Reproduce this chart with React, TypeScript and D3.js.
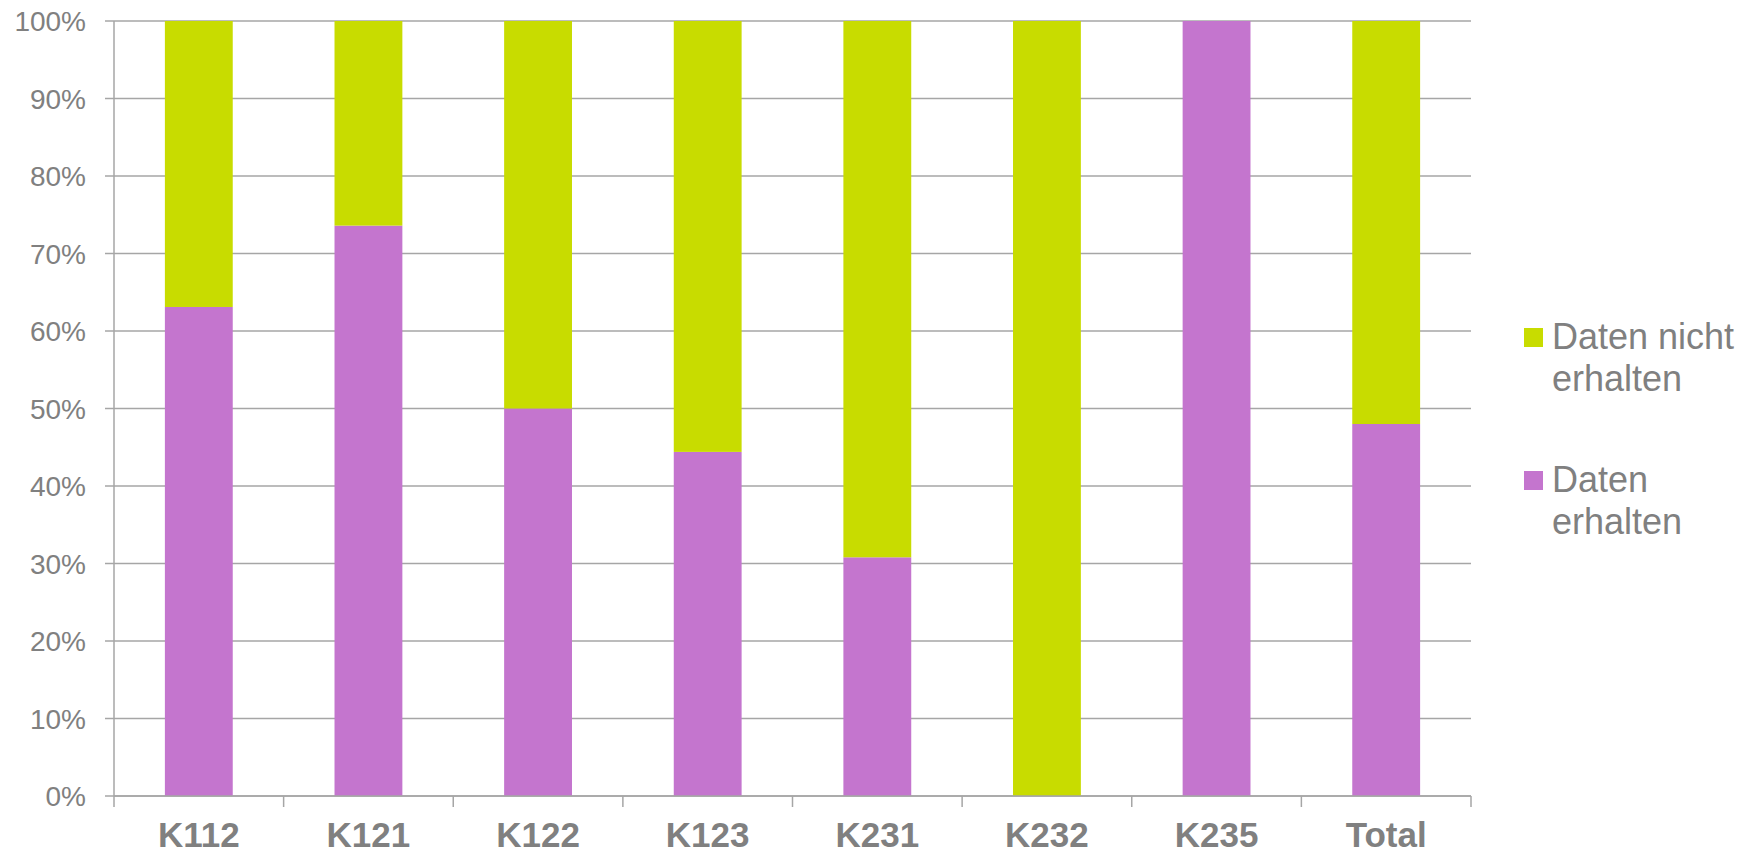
import React from "react";
import * as d3 from "d3";

const categories = ["K112", "K121", "K122", "K123", "K231", "K232", "K235", "Total"];
const erhalten = [63.1, 73.6, 50.0, 44.4, 30.8, 0, 100, 48.0];
const nichtErhalten = categories.map((_, i) => 100 - erhalten[i]);
const yTicks = [0, 10, 20, 30, 40, 50, 60, 70, 80, 90, 100];
const seriesColors = ["#C475CE", "#C8DC00"];

const W = 1757;
const H = 855;
const left = 114;
const right = 1471;
const top = 21;
const bottom = 796;
const grey = "#A6A6A6";
const textGrey = "#808080";
const font = "'Liberation Sans', Arial, sans-serif";

export default function App() {
  const x = d3.scaleBand<string>().domain(categories).range([left, right]).paddingInner(0.6).paddingOuter(0.3);
  const band = d3.scaleBand<string>().domain(categories).range([left, right]);
  const y = d3.scaleLinear().domain([0, 100]).range([bottom, top]);

  const rows = categories.map((c, i) => ({ cat: c, erhalten: erhalten[i], nicht: nichtErhalten[i] }));
  const stack = d3.stack<any>().keys(["erhalten", "nicht"])(rows);

  return (
    <div style={{ position: "absolute", left: 0, top: 0 }}>
      <svg width={W} height={H} style={{ display: "block", background: "#fff" }}>
        {yTicks.map((t) => (
          <g key={t}>
            <line x1={left - 9} x2={right} y1={y(t)} y2={y(t)} stroke={grey} strokeWidth={1.5} />
            <text x={86} y={y(t)} dy="0.36em" textAnchor="end" fontFamily={font} fontSize={28} fill={textGrey}>
              {t}%
            </text>
          </g>
        ))}
        {stack.map((s, si) =>
          s.map((d, i) => (
            <rect
              key={`${si}-${i}`}
              x={x(categories[i])}
              width={x.bandwidth()}
              y={y(d[1])}
              height={Math.max(0, y(d[0]) - y(d[1]))}
              fill={seriesColors[si]}
            />
          ))
        )}
        <line x1={left} x2={left} y1={top} y2={bottom} stroke={grey} strokeWidth={1.5} />
        <line x1={left} x2={right} y1={bottom} y2={bottom} stroke={grey} strokeWidth={1.5} />
        {categories.map((c) => (
          <line key={c} x1={band(c)} x2={band(c)} y1={bottom} y2={bottom + 11} stroke={grey} strokeWidth={1.5} />
        ))}
        <line x1={right} x2={right} y1={bottom} y2={bottom + 11} stroke={grey} strokeWidth={1.5} />
        {categories.map((c) => (
          <text
            key={c}
            x={(band(c) as number) + band.bandwidth() / 2}
            y={847}
            textAnchor="middle"
            fontFamily={font}
            fontWeight="bold"
            fontSize={35}
            fill={textGrey}
          >
            {c}
          </text>
        ))}
        <g fontFamily={font} fontSize={36} fill={textGrey}>
          <rect x={1524} y={328} width={19} height={19} fill={seriesColors[1]} />
          <text x={1552} y={349}>Daten nicht</text>
          <text x={1552} y={391}>erhalten</text>
          <rect x={1524} y={471} width={19} height={19} fill={seriesColors[0]} />
          <text x={1552} y={492}>Daten</text>
          <text x={1552} y={534}>erhalten</text>
        </g>
      </svg>
    </div>
  );
}
